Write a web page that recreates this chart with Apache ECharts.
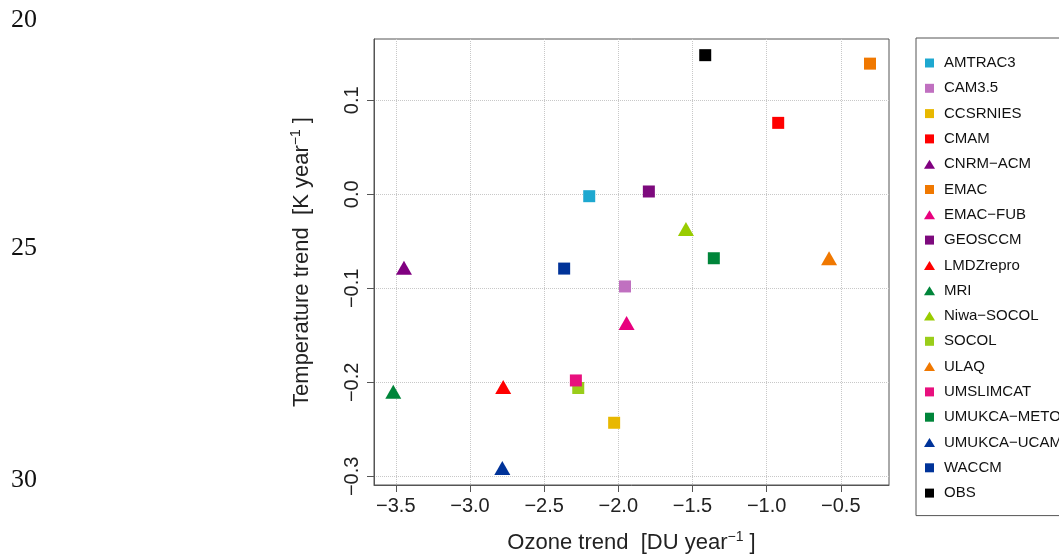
<!DOCTYPE html>
<html><head><meta charset="utf-8">
<script src="https://cdn.jsdelivr.net/npm/echarts@6/dist/echarts.min.js"></script>
<style>html,body{margin:0;padding:0;background:#fff}#c{width:1059px;height:559px}</style>
</head><body><div id="c"></div>
<script>
// ---- data ----
const models = ['AMTRAC3','CAM3.5','CCSRNIES','CMAM','CNRM\u2212ACM','EMAC','EMAC\u2212FUB','GEOSCCM','LMDZrepro','MRI','Niwa\u2212SOCOL','SOCOL','ULAQ','UMSLIMCAT','UMUKCA\u2212METO','UMUKCA\u2212UCAM','WACCM','OBS'];
const ozoneTrend = [-2.196,-1.955,-2.028,-0.922,-3.445,-0.303,-1.944,-1.794,-2.776,-3.517,-1.544,-2.270,-0.579,-2.286,-1.356,-2.782,-2.365,-1.414];
const tempTrend  = [-0.002,-0.098,-0.243,0.076,-0.078,0.139,-0.137,0.003,-0.205,-0.210,-0.037,-0.206,-0.068,-0.198,-0.068,-0.291,-0.079,0.148];
const markerShape = ['square','square','square','square','triangle','square','triangle','square','triangle','triangle','triangle','square','triangle','square','square','triangle','square','square'];
const xTicks = [-3.5,-3.0,-2.5,-2.0,-1.5,-1.0,-0.5];
const yTicks = [-0.3,-0.2,-0.1,0.0,0.1];
const lineNumbers = ['20','25','30'];
// ---- styles ----
const colors = ['#1ea8d0','#c070c0','#e8b800','#ff0000','#800080','#f07800','#e8007e','#7d0a7d','#ff0000','#00853a','#99cc00','#9acd1a','#f07800','#e8107e','#00853a','#003399','#003399','#000000'];
const lineNumY = [20,248,480];
const FONT = 'Liberation Sans';
const fmt = v => (Math.abs(v) < 1e-9 ? '0.0' : v.toFixed(1)).replace('-', '\u2212');

const chart = echarts.init(document.getElementById('c'), null, {renderer:'canvas'});
const series = models.map((name, i) => ({
  type: 'scatter',
  name: name,
  data: [[ozoneTrend[i], tempTrend[i]]],
  symbol: markerShape[i] === 'square' ? 'rect' : 'triangle',
  symbolSize: markerShape[i] === 'square' ? 12 : [16, 14],
  itemStyle: {color: colors[i], opacity: 1},
  emphasis: {disabled: true},
  z: 3
}));

const richTitle = {
  t: {fontSize: 22, fontFamily: FONT, color: '#222', lineHeight: 26},
  s: {fontSize: 14, fontFamily: FONT, color: '#222', verticalAlign: 'top', lineHeight: 20}
};

chart.setOption({
  animation: false,
  backgroundColor: '#fff',
  grid: {left: 374, top: 39, width: 515, height: 449, show: true, borderColor: '#555', borderWidth: 1, containLabel: false},
  xAxis: {
    type: 'value', min: -3.647, max: -0.175,
    axisLine: {show: true, onZero: false, lineStyle: {color: '#555', width: 1}},
    axisTick: {show: true, inside: false, length: 7, lineStyle: {color: '#555'}, customValues: xTicks},
    axisLabel: {customValues: xTicks, formatter: fmt, fontSize: 20, fontFamily: FONT, color: '#222', margin: 11},
    splitLine: {show: true, lineStyle: {color: '#c8c8c8', type: 'dotted', width: 1}},
    name: '{t|Ozone trend  [DU year}{s|\u22121}{t| ]}',
    nameLocation: 'middle', nameGap: 45,
    nameTextStyle: {fontFamily: FONT, color: '#222', rich: richTitle}
  },
  yAxis: {
    type: 'value', min: -0.3092, max: 0.1652,
    axisLine: {show: true, onZero: false, lineStyle: {color: '#555', width: 1}},
    axisTick: {show: true, inside: false, length: 7, lineStyle: {color: '#555'}, customValues: yTicks},
    axisLabel: {customValues: yTicks, formatter: fmt, rotate: 90, fontSize: 20, fontFamily: FONT, color: '#222', margin: 12},
    splitLine: {show: true, lineStyle: {color: '#c8c8c8', type: 'dotted', width: 1}},
    name: '{t|Temperature trend  [K year}{s|\u22121}{t| ]}',
    nameLocation: 'middle', nameGap: 59, nameRotate: 90,
    nameTextStyle: {fontFamily: FONT, color: '#222', rich: richTitle}
  },
  legend: {
    orient: 'vertical', left: 916, top: 38,
    padding: [16.5, 40, 14, 8],
    itemWidth: 19, itemHeight: 9, itemGap: 8.3,
    symbolKeepAspect: true,
    borderColor: '#555', borderWidth: 1, borderRadius: 0,
    selectedMode: false,
    textStyle: {fontSize: 15, fontFamily: FONT, color: '#111', lineHeight: 17},
    data: models.map((n, i) => ({name: n, icon: markerShape[i] === 'square' ? 'path://M0,0L9,0L9,9L0,9Z' : 'path://M5.5,0L11,9L0,9Z'}))
  },
  graphic: lineNumbers.map((t, i) => ({
    type: 'text', x: 24, y: lineNumY[i],
    style: {text: t, font: '26px "Liberation Serif"', fill: '#111', align: 'center', verticalAlign: 'middle'}
  })),
  series: series
});
</script>
</body></html>
